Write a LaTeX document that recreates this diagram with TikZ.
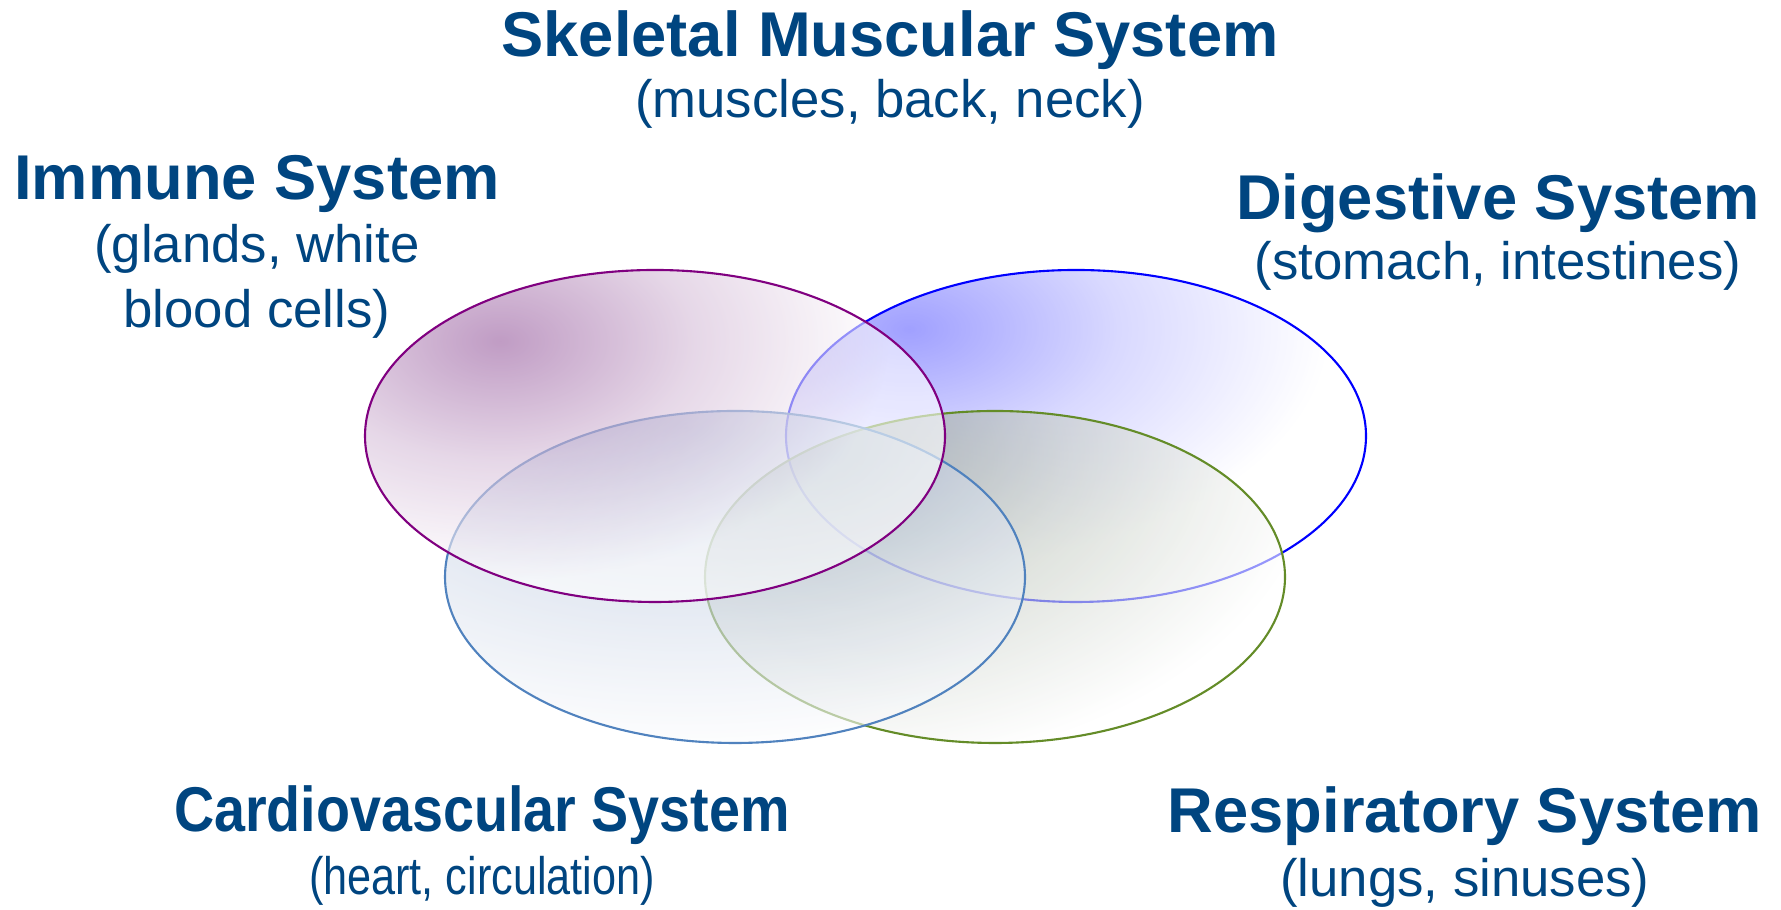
\documentclass[tikz,border=0pt]{standalone}
\usepackage{fontspec}
\setmainfont{Liberation Sans}
\usetikzlibrary{shapes.geometric}

\definecolor{txtblue}{RGB}{0,69,128}
\definecolor{immline}{RGB}{128,0,128}
\definecolor{immfill}{RGB}{150,90,157}
\definecolor{digline}{RGB}{0,0,255}
\definecolor{digfill}{RGB}{97,97,255}
\definecolor{carline}{RGB}{80,130,190}
\definecolor{carfill}{RGB}{150,170,205}
\definecolor{resline}{RGB}{100,140,40}
\definecolor{resfill}{RGB}{130,145,125}

% colour spot fading to white well inside the shaded path
\pgfdeclareradialshading{immshade}{\pgfpointorigin}{color(0bp)=(immfill); color(5bp)=(immfill!40!white); color(10bp)=(white); color(50bp)=(white)}
\pgfdeclareradialshading{digshade}{\pgfpointorigin}{color(0bp)=(digfill); color(5bp)=(digfill!40!white); color(10bp)=(white); color(50bp)=(white)}
\pgfdeclareradialshading{carshade}{\pgfpointorigin}{color(0bp)=(carfill); color(5bp)=(carfill!45!white); color(10bp)=(white); color(50bp)=(white)}
\pgfdeclareradialshading{resshade}{\pgfpointorigin}{color(0bp)=(resfill); color(5bp)=(resfill!45!white); color(10bp)=(white); color(50bp)=(white)}

\begin{document}
\begin{tikzpicture}[sys/.style={ellipse,minimum width=5.8cm,minimum height=3.32cm,inner sep=0pt,line width=0.6pt},
  ttl/.style={anchor=base,inner sep=0pt,text=txtblue,font=\fontsize{18}{21.6}\selectfont\bfseries},
  sub/.style={anchor=base,inner sep=0pt,text=txtblue,align=center,font=\fontsize{15}{18.5}\selectfont}]
  \useasboundingbox (0,0) rectangle (17.81,9.10);

  % the four systems, lowest first
  \node[sys,draw=digline,path picture={\shade[shading=digshade,fill opacity=0.6]
    ([xshift=-1.67cm,yshift=1.07cm]path picture bounding box.center) ellipse [x radius=10.5cm,y radius=6cm];}] (digestive) at (10.76,4.74) {};
  \node[sys,draw=resline,path picture={\shade[shading=resshade,fill opacity=0.6]
    ([xshift=-1.77cm,yshift=1.23cm]path picture bounding box.center) ellipse [x radius=12.5cm,y radius=8cm];}] (respir) at (9.95,3.33) {};
  \node[sys,draw=carline,path picture={\shade[shading=carshade,fill opacity=0.6]
    ([xshift=-0.5cm,yshift=1.5cm]path picture bounding box.center) ellipse [x radius=15cm,y radius=8.25cm];}] (cardio) at (7.35,3.33) {};
  \node[sys,draw=immline,path picture={\shade[shading=immshade,fill opacity=0.6]
    ([xshift=-1.55cm,yshift=0.95cm]path picture bounding box.center) ellipse [x radius=9.75cm,y radius=6cm];}] (immune) at (6.55,4.74) {};

  % labels
  \node[ttl] (skelttl) at (8.90,8.53) {Skeletal Muscular System};
  \node[sub] (skelsub) at ([yshift=-0.61cm]skelttl.base) {(muscles, back, neck)};

  \node[ttl] (immttl) at (2.57,7.10) {Immune System};
  \node[sub] (immsub) at ([yshift=-1.28cm]immttl.base) {(glands, white\\blood cells)};

  \node[ttl] (digttl) at (14.98,6.90) {Digestive System};
  \node[sub] (digsub) at ([yshift=-0.60cm]digttl.base) {(stomach, intestines)};

  \node[ttl] (carttl) at (4.82,0.78) {\scalebox{0.88}[1]{Cardiovascular System}};
  \node[sub] (carsub) at ([yshift=-0.63cm]carttl.base) {\scalebox{0.82}[1]{(heart, circulation)}};

  \node[ttl] (resttl) at (14.65,0.77) {Respiratory System};
  \node[sub] (ressub) at ([yshift=-0.64cm]resttl.base) {(lungs, sinuses)};
\end{tikzpicture}
\end{document}
